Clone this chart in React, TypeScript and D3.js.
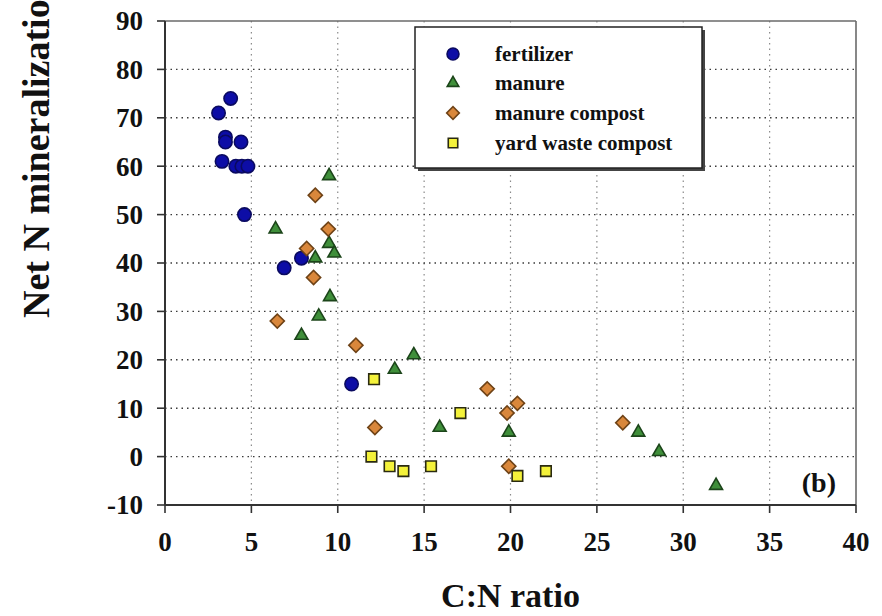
import React from "react";
import * as d3 from "d3";

// Series: C:N ratio (x) and net N mineralization in % (y)
const fertilizerCN = [3.8, 3.1, 3.5, 3.5, 4.4, 3.3, 4.1, 4.45, 4.8, 4.6, 6.9, 7.9, 10.8];
const fertilizerN = [74, 71, 66, 65, 65, 61, 60, 60, 60, 50, 39, 41, 15];

const manureCN = [9.5, 6.4, 9.5, 8.7, 9.8, 9.55, 8.9, 7.9, 14.4, 13.3, 15.9, 19.9, 27.4, 28.6, 31.9];
const manureN = [58, 47, 44, 41, 42, 33, 29, 25, 21, 18, 6, 5, 5, 1, -6];

const manureCompostCN = [8.7, 9.45, 8.2, 8.6, 6.5, 11.05, 12.15, 18.65, 19.8, 20.4, 19.9, 26.5];
const manureCompostN = [54, 47, 43, 37, 28, 23, 6, 14, 9, 11, -2, 7];

const yardCompostCN = [12.1, 11.95, 13.0, 13.8, 15.4, 17.1, 20.4, 22.05];
const yardCompostN = [16, 0, -2, -3, -2, 9, -4, -3];

const seriesNames = ["fertilizer", "manure", "manure compost", "yard waste compost"];

const xTicks = [0, 5, 10, 15, 20, 25, 30, 35, 40];
const yTicks = [-10, 0, 10, 20, 30, 40, 50, 60, 70, 80, 90];

const xTitle = "C:N ratio";
const yTitle = "Net N mineralization (%)";
const panelTag = "(b)";

const W = 882;
const H = 616;
const plot = { left: 165, right: 856, top: 21, bottom: 505 };
const serif = "'Liberation Serif', 'Times New Roman', serif";

type MarkerKind = "circle" | "triangle" | "diamond" | "square";

const styles: { kind: MarkerKind; fill: string; stroke: string }[] = [
  { kind: "circle", fill: "#0d0da6", stroke: "#0a0a60" },
  { kind: "triangle", fill: "#3f8f3a", stroke: "#1c451a" },
  { kind: "diamond", fill: "#d9873b", stroke: "#6e4216" },
  { kind: "square", fill: "#f4f23a", stroke: "#2a2a10" },
];

function markerPath(kind: MarkerKind, scale: number): string {
  const gen = d3.symbol();
  if (kind === "circle") return gen.type(d3.symbolCircle).size(140 * scale)()!;
  if (kind === "triangle") return gen.type(d3.symbolTriangle).size(72 * scale)()!;
  if (kind === "diamond") return gen.type(d3.symbolSquare).size(100 * scale)()!;
  return gen.type(d3.symbolSquare).size(112 * scale)()!;
}

function Marker({
  kind,
  x,
  y,
  fill,
  stroke,
  scale = 1,
}: {
  kind: MarkerKind;
  x: number;
  y: number;
  fill: string;
  stroke: string;
  scale?: number;
}) {
  const rot = kind === "diamond" ? " rotate(45)" : "";
  return (
    <path
      d={markerPath(kind, scale)}
      transform={`translate(${x},${y})${rot}`}
      fill={fill}
      stroke={stroke}
      strokeWidth={1.6}
    />
  );
}

export default function App() {
  const x = d3.scaleLinear().domain([0, 40]).range([plot.left, plot.right]);
  const y = d3.scaleLinear().domain([-10, 90]).range([plot.bottom, plot.top]);

  const series = [
    { cn: fertilizerCN, n: fertilizerN },
    { cn: manureCN, n: manureN },
    { cn: manureCompostCN, n: manureCompostN },
    { cn: yardCompostCN, n: yardCompostN },
  ];

  const legend = { x: 415, y: 27, w: 287, h: 141 };
  const legendRowY = [54, 83, 113, 143];

  return (
    <svg
      width={W}
      height={H}
      viewBox={`0 0 ${W} ${H}`}
      style={{ position: "absolute", left: 0, top: 0, background: "#fff" }}
    >
      <rect x={0} y={0} width={W} height={H} fill="#fff" />

      {/* vertical gridlines */}
      {xTicks.slice(1, -1).map((t) => (
        <line
          key={`vx${t}`}
          x1={x(t)}
          x2={x(t)}
          y1={plot.top}
          y2={plot.bottom}
          stroke="#8a8a8a"
          strokeWidth={1.2}
          strokeDasharray="1.5,4"
        />
      ))}
      {/* horizontal gridlines */}
      {yTicks.slice(1, -1).map((t) => (
        <line
          key={`hy${t}`}
          x1={plot.left}
          x2={plot.right}
          y1={y(t)}
          y2={y(t)}
          stroke="#3a3a3a"
          strokeWidth={1.4}
          strokeDasharray="1.5,4"
        />
      ))}

      {/* frame */}
      <line x1={plot.left} x2={plot.right} y1={plot.top} y2={plot.top} stroke="#6a6a6a" strokeWidth={1.6} />
      <line x1={plot.right} x2={plot.right} y1={plot.top} y2={plot.bottom} stroke="#6a6a6a" strokeWidth={1.6} />
      <line x1={plot.left} x2={plot.left} y1={plot.top} y2={plot.bottom} stroke="#333" strokeWidth={2} />
      <line x1={plot.left} x2={plot.right} y1={plot.bottom} y2={plot.bottom} stroke="#333" strokeWidth={2} />

      {/* y ticks */}
      {yTicks.map((t) => (
        <g key={`yt${t}`}>
          <line x1={plot.left - 8} x2={plot.left} y1={y(t)} y2={y(t)} stroke="#333" strokeWidth={1.6} />
          <text
            x={143}
            y={y(t)}
            dy="0.35em"
            textAnchor="end"
            fontFamily={serif}
            fontWeight="bold"
            fontSize={27}
            fill="#111"
          >
            {t}
          </text>
        </g>
      ))}

      {/* x ticks */}
      {xTicks.map((t) => (
        <g key={`xt${t}`}>
          <line x1={x(t)} x2={x(t)} y1={plot.bottom} y2={plot.bottom + 8} stroke="#333" strokeWidth={1.6} />
          <text
            x={x(t)}
            y={551}
            textAnchor="middle"
            fontFamily={serif}
            fontWeight="bold"
            fontSize={27}
            fill="#111"
          >
            {t}
          </text>
        </g>
      ))}

      {/* axis titles */}
      <text
        x={(plot.left + plot.right) / 2}
        y={607}
        textAnchor="middle"
        fontFamily={serif}
        fontWeight="bold"
        fontSize={34}
        fill="#111"
      >
        {xTitle}
      </text>
      <text
        transform="translate(49,318) rotate(-90)"
        textAnchor="start"
        fontFamily={serif}
        fontWeight="bold"
        fontSize={38}
        fill="#111"
      >
        {yTitle}
      </text>

      {/* data points */}
      {series.map((s, i) =>
        s.cn.map((v, j) => (
          <Marker
            key={`p${i}-${j}`}
            kind={styles[i].kind}
            x={x(v)}
            y={y(s.n[j])}
            fill={styles[i].fill}
            stroke={styles[i].stroke}
          />
        ))
      )}

      {/* panel tag */}
      <text x={836} y={492} textAnchor="end" fontFamily={serif} fontWeight="bold" fontSize={28} fill="#111">
        {panelTag}
      </text>

      {/* legend */}
      <rect x={legend.x + 3} y={legend.y + 3} width={legend.w} height={legend.h} fill="#444" />
      <rect x={legend.x} y={legend.y} width={legend.w} height={legend.h} fill="#fff" stroke="#222" strokeWidth={1.5} />
      {seriesNames.map((name, i) => (
        <g key={`lg${i}`}>
          <Marker
            kind={styles[i].kind}
            x={453}
            y={legendRowY[i]}
            fill={styles[i].fill}
            stroke={styles[i].stroke}
            scale={0.8}
          />
          <text
            x={495}
            y={legendRowY[i]}
            dy="0.32em"
            fontFamily={serif}
            fontWeight="bold"
            fontSize={21}
            fill="#111"
          >
            {name}
          </text>
        </g>
      ))}
    </svg>
  );
}
